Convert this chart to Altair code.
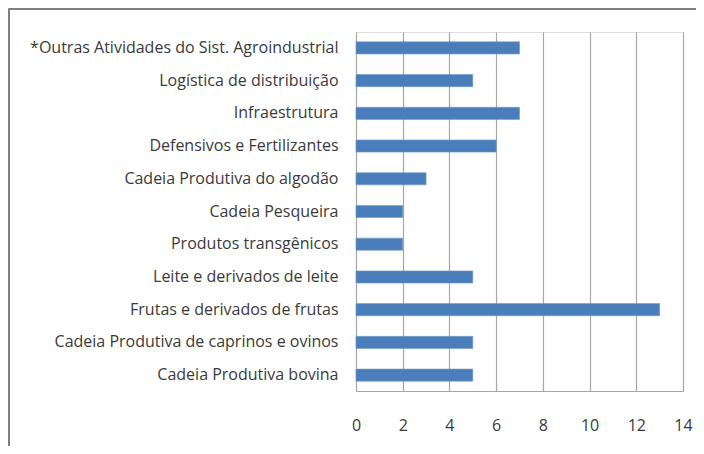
import altair as alt
import pandas as pd

categories = [
    "*Outras Atividades do Sist. Agroindustrial",
    "Logística de distribuição",
    "Infraestrutura",
    "Defensivos e Fertilizantes",
    "Cadeia Produtiva do algodão",
    "Cadeia Pesqueira",
    "Produtos transgênicos",
    "Leite e derivados de leite",
    "Frutas e derivados de frutas",
    "Cadeia Produtiva de caprinos e ovinos",
    "Cadeia Produtiva bovina",
]
values = [7, 5, 7, 6, 3, 2, 2, 5, 13, 5, 5]
x_ticks = [0, 2, 4, 6, 8, 10, 12, 14]

df = pd.DataFrame({"cat": categories, "val": values})

W, H = 327, 359
PL, PT, PR, PB = 348, 24, 13, 55

bars = alt.Chart(df).mark_bar(color="#4a7ebb", stroke="#6f98c9", strokeWidth=0.6).encode(
    y=alt.Y("cat:N", sort=categories, title=None,
            scale=alt.Scale(paddingInner=0.63, paddingOuter=0.3),
            axis=alt.Axis(ticks=False, domain=False, labelPadding=18,
                          labelFontSize=16, labelFont="Open Sans",
                          labelColor="#3a3a3a", labelLimit=400)),
    x=alt.X("val:Q", title=None,
            scale=alt.Scale(domain=[0, 14], nice=False),
            axis=alt.Axis(values=x_ticks, ticks=False, domain=True,
                          labelFlush=False,
                          domainColor="#a6a6a6", gridColor="#a6a6a6",
                          gridWidth=1.2, labelPadding=26, labelFontSize=16,
                          labelFont="Open Sans", labelColor="#3a3a3a")),
)

one = pd.DataFrame({"a": [0]})
frame_top = alt.Chart(one).mark_rule(color="#7f7f7f", strokeWidth=2).encode(
    x=alt.value(-PL + 0.5), x2=alt.value(W + PR), y=alt.value(-PT + 1)
)
frame_left = alt.Chart(one).mark_rule(color="#7f7f7f", strokeWidth=2).encode(
    x=alt.value(-PL + 1), y=alt.value(-PT + 0.5), y2=alt.value(H + PB)
)

chart = alt.layer(bars, frame_top, frame_left).properties(
    width=W, height=H,
    autosize=alt.AutoSizeParams(type="none"),
    padding={"left": PL, "top": PT, "right": PR, "bottom": PB},
).configure_view(stroke=None).configure(background="white")

chart.save("out.html", embed_options={"renderer": "svg", "actions": False})
